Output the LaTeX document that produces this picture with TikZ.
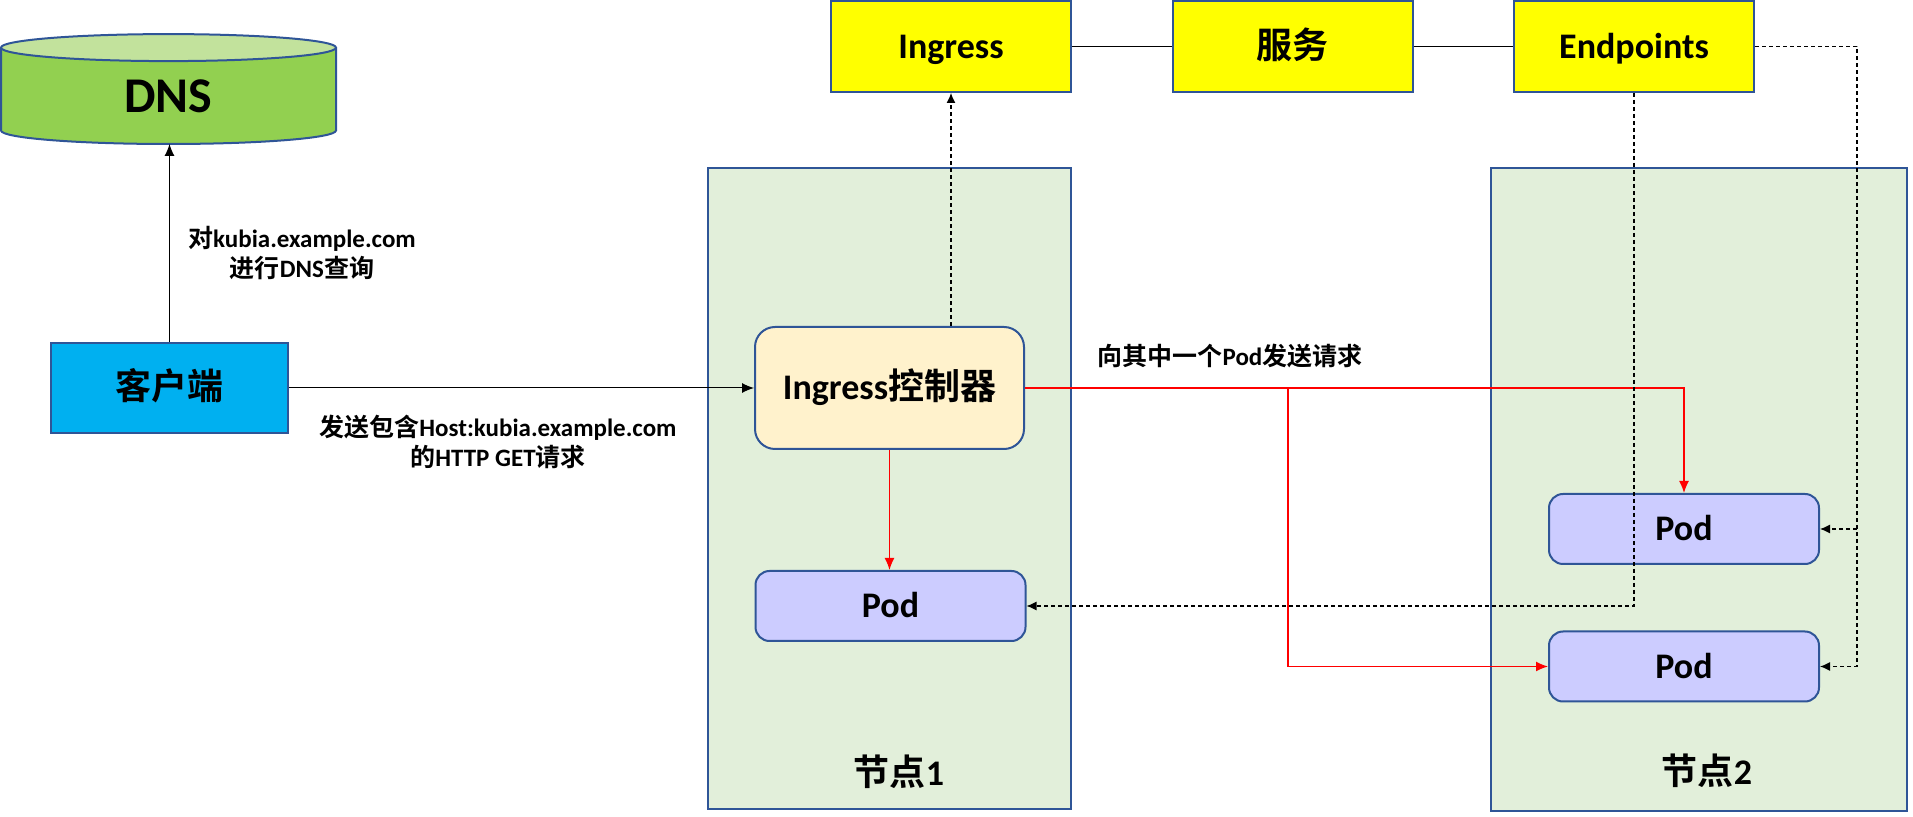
\documentclass[tikz,border=0pt]{standalone}
\usepackage{fontspec}
\setmainfont{Carlito}
\newfontfamily\cjk{Noto Sans CJK SC}[BoldFont={Noto Sans CJK SC Bold}]
\newcommand\zh[1]{{\cjk #1}}
\usetikzlibrary{arrows.meta}
\definecolor{bd}{HTML}{2F5597}
\definecolor{dnsside}{HTML}{92D050}
\definecolor{dnstop}{HTML}{C2E29C}
\definecolor{clientc}{HTML}{00B0F0}
\definecolor{nodec}{HTML}{E2EFDA}
\definecolor{ctrlc}{HTML}{FFF2CC}
\definecolor{podc}{HTML}{CCCCFF}
\definecolor{yel}{HTML}{FFFF00}
\definecolor{redc}{HTML}{FF0000}
\tikzset{
  box/.style={draw=bd, line width=1pt, inner sep=0pt, text height=11.9pt, text depth=0pt, font=\bfseries\fontsize{18pt}{22pt}\selectfont},
  podbox/.style={box, fill=podc, rounded corners=7pt, minimum width=135pt, minimum height=35pt},
  topbox/.style={box, fill=yel, minimum width=120pt, minimum height=45.5pt},
  hostbox/.style={draw=bd, line width=1pt, fill=nodec, inner sep=0pt},
  lbl/.style={align=center, inner sep=0pt, font=\bfseries\fontsize{12.5pt}{15pt}\selectfont},
  conn/.style={line width=0.5pt, draw=black},
  arr/.style={conn, -{Latex[length=6pt,width=5pt]}},
  dsh/.style={line width=0.6pt, draw=black, dash pattern=on 2pt off 1.5pt},
  darr/.style={dsh, -{Latex[length=5pt,width=4.5pt]}},
  rarr/.style={line width=0.7pt, draw=redc, -{Latex[length=6pt,width=5pt]}},
  rln/.style={line width=0.7pt, draw=redc},
}
\begin{document}
\begin{tikzpicture}[x=0.5pt,y=-0.5pt]
\useasboundingbox (0,0) rectangle (1913,817);
% DNS cylinder
\path[fill=dnsside, draw=bd, line width=1pt] (1,47.6) -- (1,130.5) arc[start angle=180,end angle=360,x radius=83.75pt,y radius=6.75pt] -- (336,47.6);
\draw[fill=dnstop, draw=bd, line width=1pt] (168.5,47.6) ellipse[x radius=83.75pt, y radius=6.75pt];
\node[font=\bfseries\fontsize{25pt}{30pt}\selectfont, text height=16.5pt, text depth=0pt, inner sep=0pt] (dns) at (168.5,96) {DNS};
\coordinate (dnsb) at (168.5,144);
% hosts
\node[hostbox, minimum width=181.5pt, minimum height=320.5pt] (node1) at (889.5,488.5) {};
\node[hostbox, minimum width=208pt, minimum height=321.5pt] (node2) at (1699,489.5) {};
\node[lbl, font=\bfseries\fontsize{18pt}{22pt}\selectfont] (n1lbl) at (899,772) {\zh{节点}1};
\node[lbl, font=\bfseries\fontsize{18pt}{22pt}\selectfont] (n2lbl) at (1707,771) {\zh{节点}2};
% client
\node[box, fill=clientc, minimum width=118.5pt, minimum height=45pt] (client) at (169.5,388) {\zh{客户端}};
% controller and pods
\node[box, fill=ctrlc, rounded corners=10pt, minimum width=134.5pt, minimum height=61pt] (ctrl) at (889.5,388) {Ingress\zh{控制器}};
\node[podbox] (pod1) at (890.5,606) {Pod};
\node[podbox] (pod2a) at (1684,529) {Pod};
\node[podbox] (pod2b) at (1684,666.5) {Pod};
% top row
\node[topbox] (ing) at (951,46.5) {Ingress};
\node[topbox] (svc) at (1292.5,46.5) {\zh{服务}};
\node[topbox] (ep) at (1634,46.5) {Endpoints};
% labels
\node[lbl] (l1) at (302,253) {\zh{对}kubia.example.com\\\zh{进行}DNS\zh{查询}};
\node[lbl] (l2) at (498,442) {\zh{发送包含}Host:kubia.example.com\\\zh{的}HTTP GET\zh{请求}};
\node[lbl] (l3) at (1230,356) {\zh{向其中一个}Pod\zh{发送请求}};
% connectors
\draw[arr] (client.north) -- (client.north |- dnsb);
\draw[arr] (client.east) -- (ctrl.west);
\draw[conn] (ing.east) -- (svc.west);
\draw[conn] (svc.east) -- (ep.west);
\draw[darr] (ing.south |- ctrl.north) -- (ing.south);
\draw[rarr] (ctrl.south) -- (ctrl.south |- pod1.north);
\draw[rarr] (ctrl.east) -| (pod2a.north);
\coordinate (br) at (1288,388);
\draw[rarr] (br) |- (pod2b.west);
\draw[darr] (ep.south) |- (pod1.east);
\coordinate (rx) at (1857,46.5);
\draw[darr] (ep.east) -- (rx) |- (pod2b.east);
\draw[darr] (rx |- pod2a.east) -- (pod2a.east);
\end{tikzpicture}
\end{document}
